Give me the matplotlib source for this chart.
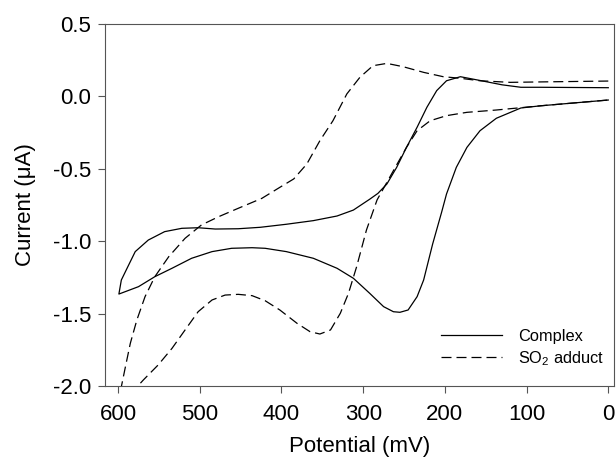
import matplotlib
matplotlib.use("Agg")
import matplotlib.pyplot as plt

plt.rcParams['font.family'] = ['Liberation Sans', 'DejaVu Sans']
plt.rcParams['axes.unicode_minus'] = False
plt.rcParams['mathtext.fontset'] = 'custom'
plt.rcParams['mathtext.rm'] = 'Liberation Sans'
plt.rcParams['mathtext.default'] = 'regular'

# Complex: upper branch 0 -> 600 mV, then lower branch 600 -> 0 mV
complex_mv = [0, 83, 107, 130, 157, 181, 198, 210, 222, 234, 247, 259, 271, 282, 292, 312, 332, 361,
              394, 426, 453, 481, 502, 522, 543, 563, 579, 589, 596, 599,
              575, 555, 534, 510, 485, 461, 436, 420, 394, 361, 332, 312, 292, 275, 263, 255, 245,
              234, 226, 215, 204, 198, 186, 173, 157, 137, 107, 83, 0]
complex_ua = [0.06, 0.063, 0.063, 0.08, 0.11, 0.136, 0.108, 0.04, -0.075, -0.213, -0.352, -0.49, -0.605, -0.67, -0.71, -0.785, -0.826, -0.858,
              -0.883, -0.904, -0.914, -0.916, -0.907, -0.911, -0.934, -0.992, -1.072, -1.187, -1.268, -1.365,
              -1.314, -1.245, -1.187, -1.118, -1.072, -1.049, -1.045, -1.049, -1.072, -1.118, -1.187, -1.256, -1.36, -1.452, -1.487, -1.491, -1.475,
              -1.383, -1.268, -1.02, -0.80, -0.674, -0.49, -0.352, -0.237, -0.151, -0.08, -0.065, -0.025]

# SO2 adduct: upper branch 0 -> 600 mV, then lower branch 600 -> 0 mV
adduct_mv = [0, 83, 120, 157, 181, 202, 226, 251, 271, 288, 304, 320, 337, 353, 369, 385, 402, 424, 453,
             477, 498, 518, 538, 555, 567, 577, 585, 591, 596, 600,
             569, 551, 534, 518, 502, 485, 469, 453, 436, 420, 402, 381, 365, 353, 340, 328, 318, 308, 296,
             283, 263, 247, 234, 218, 198, 173, 157, 137, 107, 83, 0]
adduct_ua = [0.106, 0.10, 0.097, 0.108, 0.125, 0.136, 0.166, 0.205, 0.228, 0.212, 0.132, 0.017, -0.168, -0.306, -0.467, -0.57, -0.628, -0.704, -0.773,
             -0.831, -0.888, -0.98, -1.107, -1.245, -1.383, -1.544, -1.705, -1.867, -2.005, -2.15,
             -1.958, -1.855, -1.74, -1.613, -1.487, -1.406, -1.372, -1.367, -1.376, -1.411, -1.475, -1.567, -1.625, -1.641, -1.613, -1.498, -1.36, -1.176, -0.923,
             -0.715, -0.513, -0.352, -0.237, -0.168, -0.133, -0.11, -0.103, -0.094, -0.078, -0.065, -0.025]

xticks = [600, 500, 400, 300, 200, 100, 0]
yticks = [0.5, 0.0, -0.5, -1.0, -1.5, -2.0]

fig = plt.figure(figsize=(6.16, 4.73), dpi=100)
ax = fig.add_axes([105 / 616, 87 / 473, 509 / 616, 362 / 473])

ax.plot(complex_mv, complex_ua, color='black', lw=0.9, label='Complex')
ax.plot(adduct_mv, adduct_ua, color='black', lw=0.9, dashes=(8, 4), label='SO$_2$ adduct')

ax.set_xlim(616, -7)
ax.set_ylim(-2.0, 0.5)
ax.set_xticks(xticks)
ax.set_yticks(yticks)
ax.set_yticklabels(['%.1f' % v for v in yticks])

for s in ax.spines.values():
    s.set_color('#555555')
    s.set_linewidth(0.8)
ax.tick_params(direction='out', length=5, width=0.8, color='#555555', labelsize=16, pad=5)
ax.tick_params(axis='x', pad=8)

ax.set_xlabel('Potential (mV)', fontsize=16, labelpad=8)
ax.set_ylabel('Current (\u03bcA)', fontsize=16, labelpad=12)

ax.legend(loc='lower right', bbox_to_anchor=(1.01, 0.01), frameon=False, fontsize=11.8,
          handlelength=3.7, handletextpad=1.0, labelspacing=0.3)

fig.savefig('out.png', dpi=100)
